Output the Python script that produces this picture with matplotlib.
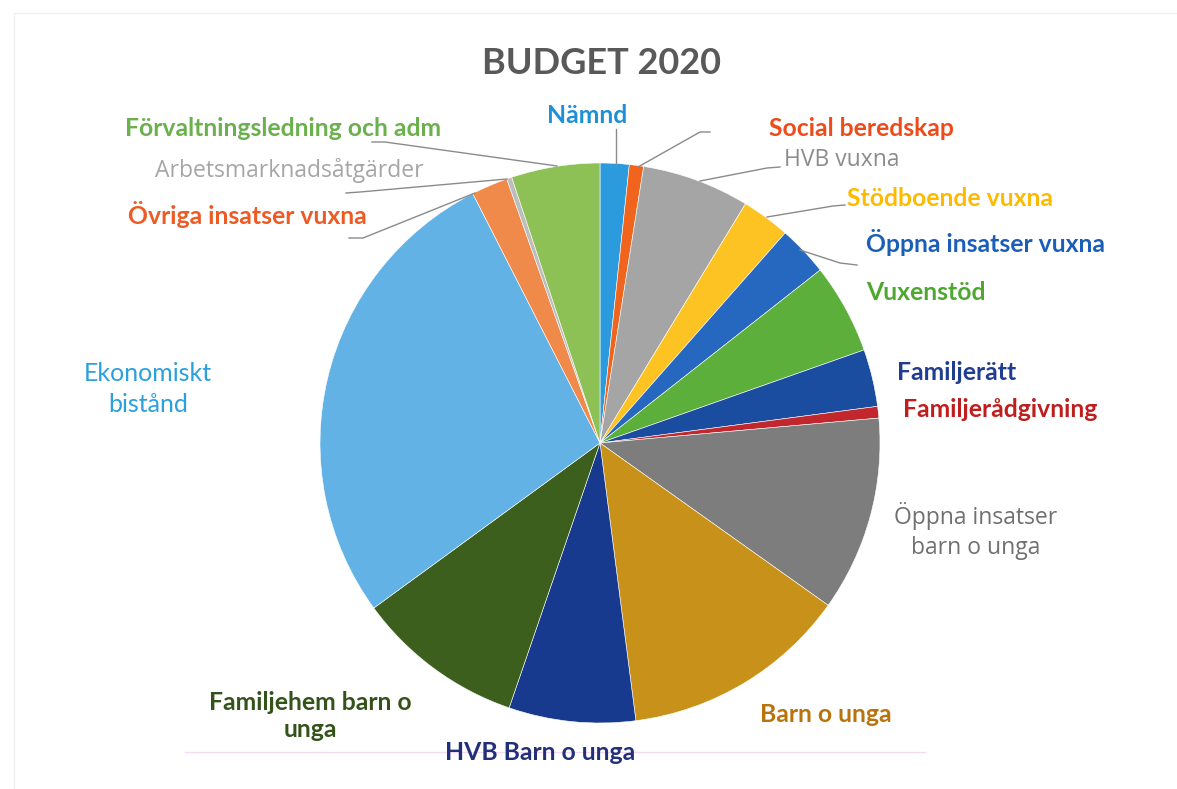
import matplotlib
matplotlib.use("Agg")
import matplotlib.pyplot as plt

# ---- data (shares, %) clockwise from 12 o'clock ----
categories = [
    "Nämnd", "Social beredskap", "HVB vuxna", "Stödboende vuxna",
    "Öppna insatser vuxna", "Vuxenstöd", "Familjerätt", "Familjerådgivning",
    "Öppna insatser\nbarn o unga", "Barn o unga", "HVB Barn o unga",
    "Familjehem barn o\nunga", "Ekonomiskt\nbistånd", "Övriga insatser vuxna",
    "Arbetsmarknadsåtgärder", "Förvaltningsledning och adm",
]
values = [1.67, 0.82, 6.2, 2.8, 2.9, 5.2, 3.3, 0.67,
          11.25, 13.1, 7.3, 9.7, 27.5, 2.1, 0.3, 5.1]
slice_colors = ["#2C9BDE", "#F0641E", "#A5A5A5", "#FDC322", "#2667BF",
                "#5CAF3A", "#1A4DA0", "#C1272D", "#7D7D7D", "#C8921A",
                "#173A8E", "#3C5F1E", "#62B2E6", "#F08A4B", "#BDBDBD",
                "#8DC155"]
label_colors = ["#1E90D8", "#EE4B1A", "#8C8C8C", "#FFBA00", "#1B5EB8",
                "#4EA72E", "#213D8F", "#BE1E1E", "#707070", "#B8730C",
                "#22307A", "#33531A", "#2BA0DE", "#ED5A24", "#A6A6A6",
                "#6AB04C"]
title = "BUDGET 2020"

W, H = 1177, 789
fig = plt.figure(figsize=(W / 100, H / 100), dpi=100)
ax = fig.add_axes([0, 0, 1, 1])
ax.set_xlim(0, W)
ax.set_ylim(0, H)
ax.set_aspect("equal")
ax.axis("off")

def Y(y):
    return H - y

cx, cy, R = 600, 443, 280
ax.pie(values, colors=slice_colors, startangle=90, counterclock=False,
       center=(cx, Y(cy)), radius=R,
       wedgeprops=dict(edgecolor="white", linewidth=0.4))
ax.set_xlim(0, W)
ax.set_ylim(0, H)

# title
ax.text(602, Y(63), title, ha="center", va="center", fontsize=26,
        fontweight="bold", color="#595959", family="Lato")

# label positions (pixel centres) and styles
label_pos = [(587, 115), (861, 128), (842, 160), (950, 198), (986, 242),
             (926, 292), (957, 372), (1000, 409), (976, 531), (826, 715),
             (540, 753), (310, 716), (148, 389), (247, 214), (289, 170),
             (283, 128)]
regular = {"HVB vuxna", "Arbetsmarknadsåtgärder", "Öppna insatser\nbarn o unga"}
for name, (x, y), col in zip(categories, label_pos, label_colors):
    if name in regular:
        ax.text(x, Y(y), name, ha="center", va="center", fontsize=16.5,
                color=col, family="Open Sans", linespacing=1.38)
    elif name.startswith("Ekonomiskt"):
        ax.text(x, Y(y), name, ha="center", va="center", fontsize=18,
                color=col, family="Lato", linespacing=1.4)
    else:
        ax.text(x, Y(y), name, ha="center", va="center", fontsize=17.8,
                color=col, family="Lato", fontweight="bold",
                linespacing=1.25)

# leader lines
leaders = [
    [(616, 129), (616, 165)],
    [(710, 132), (700, 132), (638, 167)],
    [(780, 167), (767, 168), (700, 181)],
    [(845, 205), (833, 206), (767, 217)],
    [(857, 265), (840, 263), (800, 250)],
    [(349, 238), (363, 238), (475, 193)],
    [(346, 193), (360, 192), (507, 179)],
    [(372, 142), (385, 142), (557, 166)],
]
for pts in leaders:
    xs = [p[0] for p in pts]
    ys = [Y(p[1]) for p in pts]
    ax.plot(xs, ys, color="#8A8A8A", linewidth=1.0, zorder=1)

# faint scan artefacts: pink rule and page border
ax.plot([185, 925], [Y(752), Y(752)], color="#F2DCF2", linewidth=1.0, zorder=0)
ax.plot([14, 14, W], [0, Y(13), Y(13)], color="#F0F0F0", linewidth=1.0, zorder=0)

fig.savefig("out.png", dpi=100)
